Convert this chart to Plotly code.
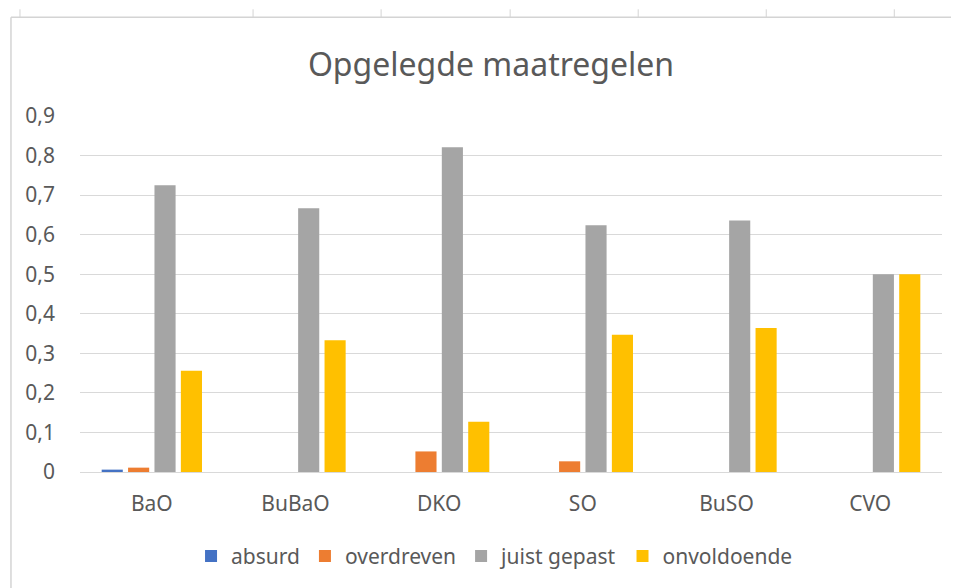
import plotly.graph_objects as go

categories = ["BaO", "BuBaO", "DKO", "SO", "BuSO", "CVO"]
absurd = [0.006, 0, 0, 0, 0, 0]
overdreven = [0.011, 0, 0.052, 0.027, 0, 0]
juist_gepast = [0.725, 0.667, 0.821, 0.624, 0.636, 0.5]
onvoldoende = [0.256, 0.333, 0.127, 0.347, 0.364, 0.5]
series_names = ["absurd", "overdreven", "juist gepast", "onvoldoende"]
series_colors = ["#4472C4", "#ED7D31", "#A5A5A5", "#FFC000"]
y_ticks = [0, 0.1, 0.2, 0.3, 0.4, 0.5, 0.6, 0.7, 0.8, 0.9]
title_text = "Opgelegde maatregelen"

FONT = "Noto Sans"
TXT = "#595959"
GRID = "#D9D9D9"

OFF = 8  # page body margin
W_PX, H_PX = 959 - OFF, 588 - OFF
L, R, T, B = 80 - OFF, 941.7 - OFF, 115.7 - OFF, 471.7 - OFF
PW, PH = R - L, B - T


def px(x):
    return (x - OFF - L) / PW


def py(y):
    return (B - (y - OFF)) / PH


fig = go.Figure()
for name, vals, col in zip(series_names, [absurd, overdreven, juist_gepast, onvoldoende], series_colors):
    fig.add_trace(go.Bar(name=name, x=categories, y=vals, marker=dict(color=col, line=dict(width=0))))

shapes = []
# chart-area border (left and top)
shapes.append(dict(type="line", xref="paper", yref="paper", x0=px(11), x1=px(965), y0=py(17), y1=py(17),
                   line=dict(color="#D4D4D4", width=1.5)))
shapes.append(dict(type="line", xref="paper", yref="paper", x0=px(11), x1=px(11), y0=py(17), y1=py(595),
                   line=dict(color="#D4D4D4", width=1.5)))
for xt in [20, 253, 381, 510, 638, 766, 894]:
    shapes.append(dict(type="line", xref="paper", yref="paper", x0=px(xt), x1=px(xt), y0=py(9), y1=py(17),
                       line=dict(color="#D4D4D4", width=1)))

fig.update_layout(
    width=W_PX, height=H_PX,
    margin=dict(l=L, r=W_PX - R, t=T, b=H_PX - B, autoexpand=False),
    paper_bgcolor="white", plot_bgcolor="white",
    separators=",.",
    barmode="group", bargap=0.265, bargroupgap=0.2,
    font=dict(family=FONT, color=TXT, size=21),
    title=dict(text=title_text, x=(491 - OFF) / W_PX, xanchor="center", y=1 - (65 - OFF) / H_PX, yanchor="middle",
               font=dict(family=FONT, size=32, color=TXT)),
    xaxis=dict(showgrid=False, showline=False, zeroline=False, ticks="", ticklabelstandoff=17,
               tickfont=dict(size=21, color=TXT)),
    yaxis=dict(range=[0, 0.9], tickvals=y_ticks, showgrid=True, gridcolor=GRID, gridwidth=1.3,
               zeroline=True, zerolinecolor=GRID, zerolinewidth=1.3, showline=False, ticks="",
               ticklabelstandoff=24, tickfont=dict(size=21, color=TXT)),
    legend=dict(orientation="h", xanchor="left", x=px(191), yanchor="middle", y=py(556),
                font=dict(size=21, color=TXT), bgcolor="rgba(0,0,0,0)", itemwidth=30),
    shapes=shapes,
    showlegend=True,
)

fig.write_html("out.html")
